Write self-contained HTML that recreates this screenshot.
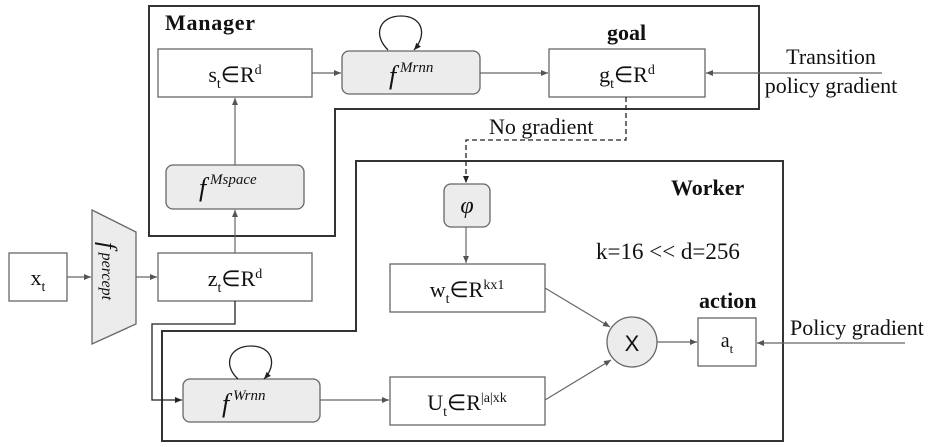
<!DOCTYPE html>
<html><head><meta charset="utf-8"><style>
html,body{margin:0;padding:0;background:#fff;}
svg{display:block;font-family:"Liberation Serif",serif;}
</style></head><body>
<svg width="940" height="447" viewBox="0 0 940 447" xmlns="http://www.w3.org/2000/svg">
<defs>
<marker id="a" markerWidth="8" markerHeight="8" refX="7" refY="3" orient="auto" markerUnits="userSpaceOnUse"><path d="M0,0 L7,3 L0,6 z" fill="#555"/></marker>
<marker id="b" markerWidth="8" markerHeight="8" refX="7" refY="3" orient="auto" markerUnits="userSpaceOnUse"><path d="M0,0 L7,3 L0,6 z" fill="#222"/></marker>
</defs>
<g fill="none" stroke="#333" stroke-width="2">
<path d="M149,6 H759 V109 H335 V236 H149 Z"/>
<path d="M356,161 H783 V441 H162 V331 H356 Z"/>
</g>
<g stroke="#666" stroke-width="1.3" fill="#fff">
<rect x="158" y="49" width="154" height="48"/>
<rect x="549" y="49" width="156" height="48"/>
<rect x="158" y="253" width="154" height="48"/>
<rect x="9" y="253" width="58" height="48"/>
<rect x="390" y="264" width="155" height="48"/>
<rect x="390" y="377" width="155" height="48"/>
<rect x="698" y="318" width="58" height="48"/>
</g>
<g stroke="#666" stroke-width="1.3" fill="#ececec">
<rect x="342" y="51" width="138" height="43" rx="7"/>
<rect x="166" y="165" width="138" height="44" rx="7"/>
<rect x="183" y="379" width="137" height="43" rx="7"/>
<rect x="444" y="184" width="46" height="43" rx="7"/>
<polygon points="92,210 136,232 136,324 92,344"/>
<circle cx="632" cy="342" r="25"/>
</g>
<g stroke="#666" stroke-width="1.2" fill="none" marker-end="url(#a)">
<path d="M235,253 V210"/>
<path d="M235,165 V98"/>
<path d="M312,73 H341"/>
<path d="M480,73 H548"/>
<path d="M882,73 H706"/>
<path d="M67,277 H91"/>
<path d="M136,277 H157"/>
<path d="M466,227 V263"/>
<path d="M320,400 H389"/>
<path d="M545,288 L610,327"/>
<path d="M545,400 L611,360"/>
<path d="M657,342 H697"/>
<path d="M905,343 H757"/>
</g>
<path d="M235,301 V324 H152 V400 H182" fill="none" stroke="#222" stroke-width="1.3" marker-end="url(#b)"/>
<path d="M626,97 V140 H466 V183" fill="none" stroke="#222" stroke-width="1.3" stroke-dasharray="5,3" marker-end="url(#b)"/>
<path d="M388,50 C372,34 380,16 401,16 C422,16 428,34 414,50" fill="none" stroke="#222" stroke-width="1.3" marker-end="url(#b)"/>
<path d="M238,379 C222,364 230,346 251,346 C272,346 278,364 264,379" fill="none" stroke="#222" stroke-width="1.3" marker-end="url(#b)"/>
<g fill="#111" font-size="22">
<text x="235" y="82" text-anchor="middle">s<tspan font-size="14" dy="6">t</tspan><tspan dy="-6">∈R</tspan><tspan font-size="14" dy="-8">d</tspan></text>
<text x="627" y="82" text-anchor="middle">g<tspan font-size="14" dy="6">t</tspan><tspan dy="-6">∈R</tspan><tspan font-size="14" dy="-8">d</tspan></text>
<text x="235" y="286" text-anchor="middle">z<tspan font-size="14" dy="6">t</tspan><tspan dy="-6">∈R</tspan><tspan font-size="14" dy="-8">d</tspan></text>
<text x="38" y="285" text-anchor="middle">x<tspan font-size="14" dy="6">t</tspan></text>
<text x="467" y="297" text-anchor="middle">w<tspan font-size="14" dy="6">t</tspan><tspan dy="-6">∈R</tspan><tspan font-size="14" dy="-8">kx1</tspan></text>
<text x="467" y="410" text-anchor="middle">U<tspan font-size="14" dy="6">t</tspan><tspan dy="-6">∈R</tspan><tspan font-size="14" dy="-8">|a|xk</tspan></text>
<text x="727" y="347" text-anchor="middle" font-size="20">a<tspan font-size="13" dy="6">t</tspan></text>
<text x="632" y="351" text-anchor="middle" font-family="Liberation Sans,sans-serif" font-size="22">X</text>
<text x="389" y="84" font-style="italic" font-size="26">f<tspan font-size="15" dy="-12"> Mrnn</tspan></text>
<text x="199" y="196" font-style="italic" font-size="26">f<tspan font-size="15" dy="-12"> Mspace</tspan></text>
<text x="222" y="412" font-style="italic" font-size="26">f<tspan font-size="15" dy="-12"> Wrnn</tspan></text>
<text x="467" y="213" text-anchor="middle" font-style="italic" font-size="24">φ</text>
<text transform="translate(100,242) rotate(90)" font-style="italic" font-size="24">f<tspan font-size="16" dy="-2"> percept</tspan></text>
<text x="165" y="30" font-weight="bold" font-size="22" textLength="90">Manager</text>
<text x="607" y="40" font-weight="bold" font-size="22">goal</text>
<text x="671" y="195" font-weight="bold" font-size="22">Worker</text>
<text x="699" y="308" font-weight="bold" font-size="22">action</text>
<text x="831" y="64" text-anchor="middle" font-size="22">Transition</text>
<text x="831" y="93" text-anchor="middle" font-size="22">policy gradient</text>
<text x="489" y="134" font-size="22">No gradient</text>
<text x="596" y="259" font-size="23">k=16 &lt;&lt; d=256</text>
<text x="790" y="335" font-size="22">Policy gradient</text>
</g>
</svg>
</body></html>
